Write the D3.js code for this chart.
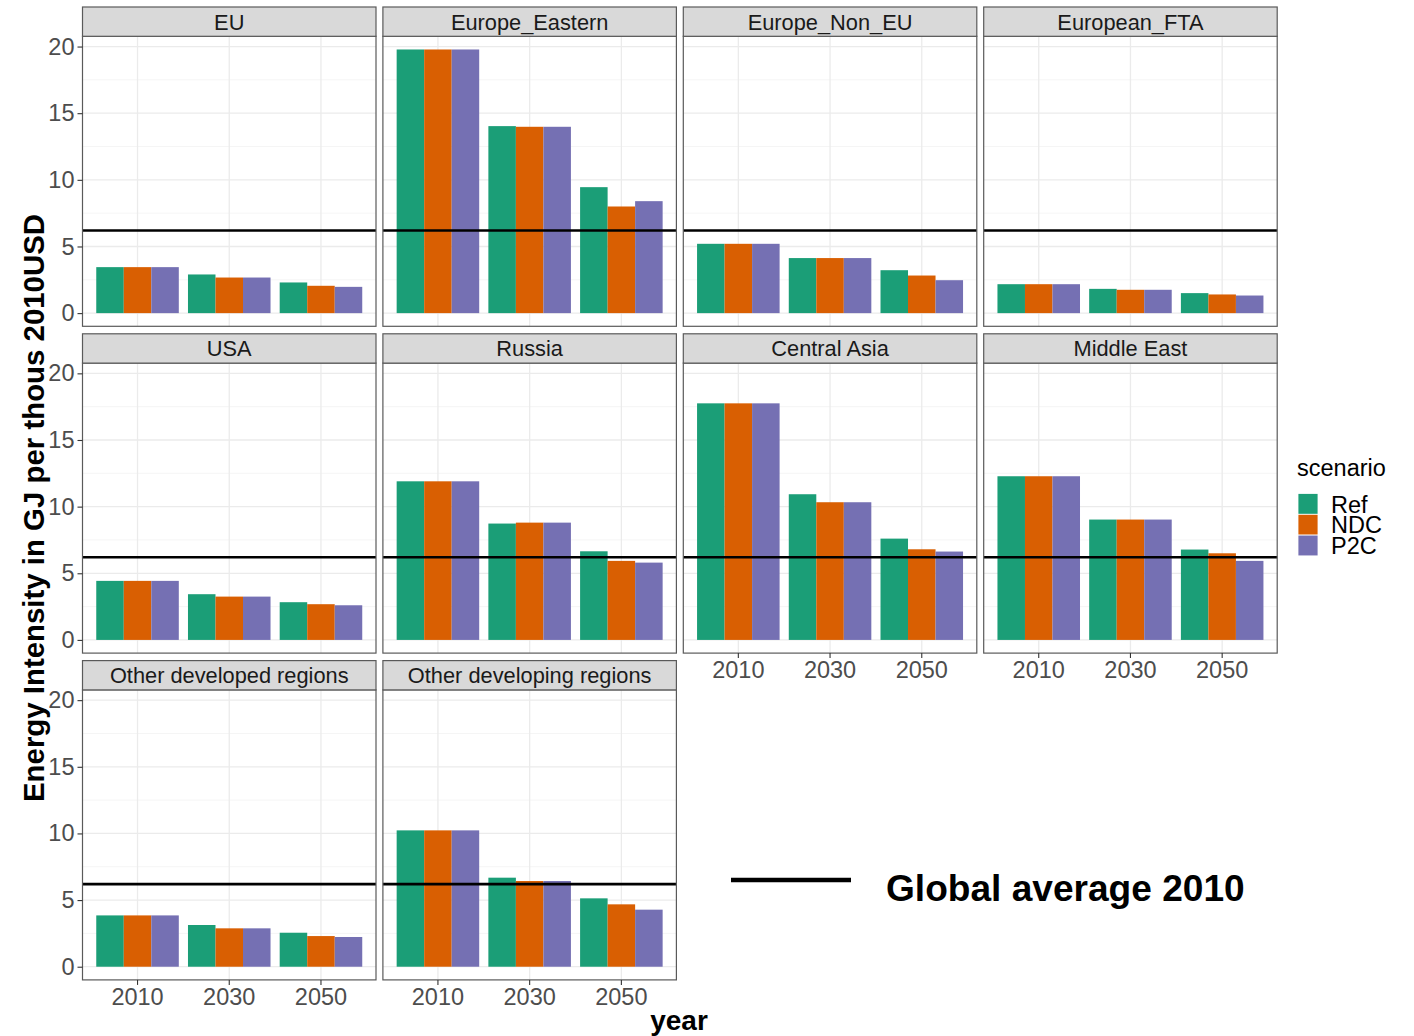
<!DOCTYPE html>
<html>
<head>
<meta charset="utf-8">
<script src="https://cdn.jsdelivr.net/npm/d3@7"></script>
<style>
  html, body { margin: 0; padding: 0; background: #fff; }
  svg { display: block; font-family: "Liberation Sans", Arial, sans-serif; }
</style>
</head>
<body>
<svg id="chart" width="1414" height="1036"></svg>
<script>
// Energy intensity (GJ per thousand 2010 USD) by region, year and scenario
const regions = ["EU", "Europe_Eastern", "Europe_Non_EU", "European_FTA",
                 "USA", "Russia", "Central Asia", "Middle East",
                 "Other developed regions", "Other developing regions"];
const years = ["2010", "2030", "2050"];
const scenarios = ["Ref", "NDC", "P2C"];
const scenarioColors = ["#1B9E77", "#D95F02", "#7570B3"];

// values per region: [year][scenario]
const valEU            = [[3.45, 3.45, 3.45], [2.90, 2.67, 2.67], [2.30, 2.05, 1.97]];
const valEuropeEastern = [[19.78, 19.78, 19.78], [14.03, 13.98, 13.98], [9.45, 8.00, 8.40]];
const valEuropeNonEU   = [[5.20, 5.20, 5.20], [4.13, 4.13, 4.13], [3.22, 2.82, 2.47]];
const valEuropeanFTA   = [[2.17, 2.17, 2.17], [1.82, 1.75, 1.75], [1.50, 1.40, 1.32]];
const valUSA           = [[4.43, 4.43, 4.43], [3.43, 3.25, 3.25], [2.83, 2.68, 2.60]];
const valRussia        = [[11.90, 11.90, 11.90], [8.73, 8.80, 8.80], [6.65, 5.93, 5.80]];
const valCentralAsia   = [[17.75, 17.75, 17.75], [10.93, 10.33, 10.33], [7.60, 6.80, 6.63]];
const valMiddleEast    = [[12.28, 12.28, 12.28], [9.03, 9.03, 9.03], [6.78, 6.50, 5.93]];
const valOtherDeveloped  = [[3.85, 3.85, 3.85], [3.13, 2.88, 2.88], [2.55, 2.30, 2.23]];
const valOtherDeveloping = [[10.23, 10.23, 10.23], [6.68, 6.43, 6.43], [5.13, 4.68, 4.28]];

const regionValues = [valEU, valEuropeEastern, valEuropeNonEU, valEuropeanFTA,
                      valUSA, valRussia, valCentralAsia, valMiddleEast,
                      valOtherDeveloped, valOtherDeveloping];

const globalAverage2010 = 6.2;
const yTicks = [0, 5, 10, 15, 20];
const yMinorTicks = [2.5, 7.5, 12.5, 17.5];

// long-format rows
const rows = [];
regions.forEach((r, ri) => years.forEach((y, yi) => scenarios.forEach((s, si) => {
  rows.push({ region: r, year: y, scenario: s, value: regionValues[ri][yi][si] });
})));

// ---- layout ----
const svg = d3.select("#chart");
const nCol = 4;
const panelLeft0 = 82.5, colStep = 300.4, panelW = 293.5;
const stripTop0 = 7, rowStep = 326.8, stripH = 29.3, plotH = 290;

// shared scales (same for every facet)
const maxVal = d3.max(rows, d => d.value);
const expand = maxVal * 0.05;
const y = d3.scaleLinear().domain([0 - expand, maxVal + expand]).range([plotH, 0]);
const x = d3.scaleBand().domain(years).range([0, panelW]).paddingInner(0.1).paddingOuter(0.15);
const xs = d3.scaleBand().domain(scenarios).range([0, x.bandwidth()]).padding(0);
const color = d3.scaleOrdinal().domain(scenarios).range(scenarioColors);

const tickFont = 23.5;
const nPanels = regions.length;

regions.forEach((region, i) => {
  const col = i % nCol, row = Math.floor(i / nCol);
  const left = panelLeft0 + col * colStep;
  const stripTop = stripTop0 + row * rowStep;
  const top = stripTop + stripH;

  const g = svg.append("g").attr("transform", `translate(${left},${top})`);

  // background grid
  g.selectAll("line.minor").data(yMinorTicks).join("line")
    .attr("x1", 0).attr("x2", panelW)
    .attr("y1", d => y(d)).attr("y2", d => y(d))
    .attr("stroke", "#f2f2f2").attr("stroke-width", 0.8);
  g.selectAll("line.major").data(yTicks).join("line")
    .attr("x1", 0).attr("x2", panelW)
    .attr("y1", d => y(d)).attr("y2", d => y(d))
    .attr("stroke", "#ebebeb").attr("stroke-width", 1.3);
  g.selectAll("line.vgrid").data(years).join("line")
    .attr("x1", d => x(d) + x.bandwidth() / 2).attr("x2", d => x(d) + x.bandwidth() / 2)
    .attr("y1", 0).attr("y2", plotH)
    .attr("stroke", "#ebebeb").attr("stroke-width", 1.3);

  // bars
  const data = rows.filter(d => d.region === region);
  g.selectAll("rect.bar").data(data).join("rect")
    .attr("x", d => x(d.year) + xs(d.scenario))
    .attr("width", xs.bandwidth())
    .attr("y", d => y(d.value))
    .attr("height", d => y(0) - y(d.value))
    .attr("fill", d => color(d.scenario));

  // global average reference line
  g.append("line")
    .attr("x1", 0).attr("x2", panelW)
    .attr("y1", y(globalAverage2010)).attr("y2", y(globalAverage2010))
    .attr("stroke", "#000").attr("stroke-width", 2.6);

  // panel border
  g.append("rect").attr("x", 0).attr("y", 0).attr("width", panelW).attr("height", plotH)
    .attr("fill", "none").attr("stroke", "#5a5a5a").attr("stroke-width", 1.2);

  // strip
  svg.append("rect").attr("x", left).attr("y", stripTop).attr("width", panelW).attr("height", stripH)
    .attr("fill", "#d9d9d9").attr("stroke", "#5a5a5a").attr("stroke-width", 1.2);
  svg.append("text").attr("x", left + panelW / 2).attr("y", stripTop + stripH / 2 + 7.9)
    .attr("text-anchor", "middle").attr("font-size", 21.8).attr("fill", "#1a1a1a")
    .text(region);

  // y axis on first column
  if (col === 0) {
    const ya = g.append("g").call(d3.axisLeft(y).tickValues(yTicks).tickSize(5).tickPadding(3));
    ya.select(".domain").remove();
    ya.selectAll(".tick line").attr("stroke", "#333").attr("stroke-width", 1.1);
    ya.selectAll(".tick text").attr("font-size", tickFont).attr("fill", "#4d4d4d")
      .attr("font-family", "Liberation Sans, Arial, sans-serif");
  }

  // x axis on the lowest panel of each column
  const isBottom = i + nCol >= nPanels;
  if (isBottom) {
    const xa = g.append("g").attr("transform", `translate(0,${plotH})`)
      .call(d3.axisBottom(x).tickSize(5).tickPadding(3));
    xa.select(".domain").remove();
    xa.selectAll(".tick line").attr("stroke", "#333").attr("stroke-width", 1.1);
    xa.selectAll(".tick text").attr("font-size", tickFont).attr("fill", "#4d4d4d")
      .attr("font-family", "Liberation Sans, Arial, sans-serif");
  }
});

// axis titles
svg.append("text")
  .attr("transform", "translate(43.5,508) rotate(-90)")
  .attr("text-anchor", "middle").attr("font-size", 29.4).attr("font-weight", "bold")
  .attr("fill", "#000")
  .text("Energy Intensity in GJ per thous 2010USD");

svg.append("text")
  .attr("x", 679).attr("y", 1030)
  .attr("text-anchor", "middle").attr("font-size", 28).attr("font-weight", "bold")
  .attr("fill", "#000")
  .text("year");

// scenario legend
const legend = svg.append("g").attr("transform", "translate(1297,0)");
legend.append("text").attr("x", 0).attr("y", 475.5)
  .attr("font-size", 23.5).attr("fill", "#000").text("scenario");
const keyTop = 493.5, keyStep = 20.8;
scenarios.forEach((s, i) => {
  legend.append("rect").attr("x", 1).attr("y", keyTop + i * keyStep)
    .attr("width", 20).attr("height", keyStep)
    .attr("fill", color(s)).attr("stroke", "#fff").attr("stroke-width", 0.8);
  legend.append("text").attr("x", 34).attr("y", keyTop + i * keyStep + 19)
    .attr("font-size", 23.5).attr("fill", "#000").text(s);
});

// reference line annotation
svg.append("line").attr("x1", 731).attr("x2", 851).attr("y1", 880).attr("y2", 880)
  .attr("stroke", "#000").attr("stroke-width", 4.5);
svg.append("text").attr("x", 886).attr("y", 901)
  .attr("font-size", 37.1).attr("font-weight", "bold").attr("fill", "#000")
  .text("Global average 2010");
</script>
</body>
</html>
